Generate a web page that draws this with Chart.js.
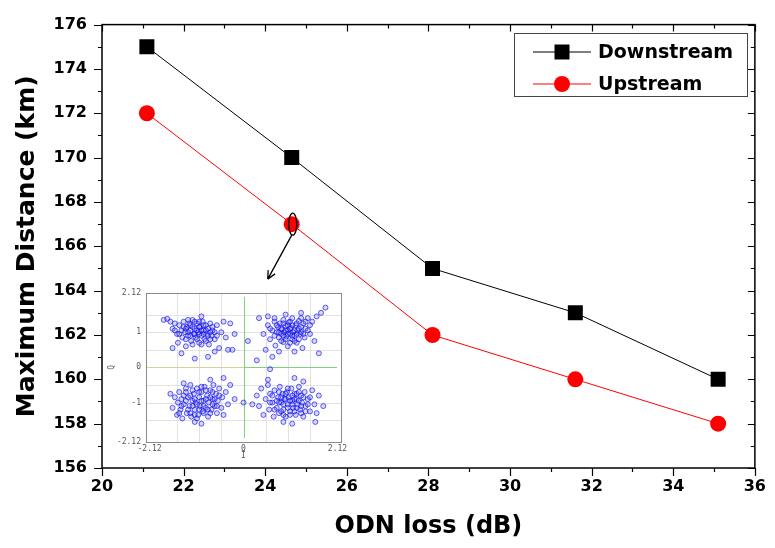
<!DOCTYPE html>
<html>
<head>
<meta charset="utf-8">
<script src="https://cdn.jsdelivr.net/npm/chart.js@4/dist/chart.umd.min.js"></script>
<style>
  body { margin: 0; background: #fff; }
  #wrap { position: relative; width: 775px; height: 548px; }
  #inset { position: absolute; left: 104px; top: 283px; width: 246px; height: 178px; background: #fff; }
</style>
</head>
<body>
<div id="wrap">
  <canvas id="myChart"></canvas>
  <div id="inset"><canvas id="insetChart"></canvas></div>
</div>
<script>
// main chart data
var odnLoss = [21.1, 24.65, 28.1, 31.6, 35.1];
var downstream = [175, 170, 165, 163, 160];
var upstream = [172, 167, 162, 160, 158];
var xTicks = [20, 22, 24, 26, 28, 30, 32, 34, 36];
var yTicks = [156, 158, 160, 162, 164, 166, 168, 170, 172, 174, 176];

// inset constellation (I, Q), roughly
var clusterUL = [[-1.8,1.35],[-1.72,1.38],[-1.65,1.3],[-1.6,1.1],[-1.55,1.25],[-1.5,0.95],[-1.48,0.7],[-1.45,1.2],[-1.4,1.05],[-1.38,0.85],[-1.35,1.3],[-1.32,1.0],[-1.3,0.6],[-1.28,1.15],[-1.25,0.9],[-1.22,1.25],[-1.2,1.05],[-1.18,0.75],[-1.15,1.35],[-1.12,0.95],[-1.1,1.1],[-1.08,0.85],[-1.05,1.25],[-1.02,1.0],[-1.0,0.7],[-0.98,1.15],[-0.95,0.9],[-0.92,1.3],[-0.9,1.05],[-0.88,0.8],[-0.85,1.2],[-0.82,0.95],[-0.8,1.1],[-0.78,0.65],[-0.75,1.25],[-0.72,0.9],[-0.7,1.05],[-0.65,0.8],[-0.6,1.2],[-0.55,0.55],[-0.5,1.0],[-0.45,1.3],[-0.4,0.85],[-0.35,0.5],[-0.3,1.25],[-1.4,0.4],[-1.1,0.25],[-0.8,0.3],[-0.2,0.95],[-1.6,0.55],[-0.95,1.45],[-0.65,0.45],[-0.25,0.5],
  [-1.3,1.1],[-1.25,1.0],[-1.2,0.9],[-1.15,1.15],[-1.1,0.95],[-1.05,1.05],[-1.0,1.15],[-0.95,1.05],[-0.9,0.95],[-0.85,1.05],[-0.8,0.9],[-0.75,1.0],[-1.35,1.15],[-1.25,1.35],[-1.05,0.8],[-0.9,1.2],[-1.2,1.2],[-1.0,0.95],[-0.7,1.15],[-0.65,1.0],[-1.45,0.95],[-1.1,1.3],[-0.85,0.75],[-1.3,0.8],[-0.95,0.65],[-0.6,0.9],[-1.55,1.05],[-1.15,0.65],[-0.75,0.8],[-1.0,1.3]];
var clusterUR = [[0.45,0.95],[0.55,1.2],[0.6,0.8],[0.65,1.05],[0.7,1.3],[0.72,0.62],[0.75,1.0],[0.78,1.15],[0.8,0.85],[0.82,1.25],[0.85,0.95],[0.87,1.08],[0.9,0.72],[0.9,1.35],[0.92,1.0],[0.95,1.18],[0.97,0.88],[1.0,1.05],[1.0,0.6],[1.02,1.28],[1.05,0.95],[1.07,1.12],[1.1,0.8],[1.1,1.4],[1.12,1.0],[1.15,0.9],[1.18,1.2],[1.2,0.7],[1.22,1.05],[1.25,1.32],[1.28,0.95],[1.3,1.15],[1.33,0.55],[1.35,1.25],[1.38,0.85],[1.4,1.1],[1.45,1.4],[1.5,0.95],[1.55,1.3],[1.6,0.75],[1.65,1.45],[1.75,1.55],[1.85,1.7],[0.35,1.4],[0.5,0.5],[0.3,0.2],[0.65,0.3],[1.15,0.45],[0.55,1.45],[1.3,1.55],[0.1,0.75],[1.7,0.4],[0.95,1.5],[0.8,0.45],
  [0.8,1.0],[0.85,1.1],[0.9,0.9],[0.95,1.05],[1.0,0.95],[1.05,1.1],[1.1,1.2],[1.15,1.05],[1.2,0.95],[1.25,1.1],[1.3,1.0],[0.75,1.2],[0.95,0.8],[1.05,1.3],[1.2,1.25],[1.35,0.95],[0.7,0.9],[1.0,1.2],[0.85,0.75],[1.15,0.75],[1.4,1.3],[0.6,1.1],[1.25,0.8],[1.45,1.05],[0.9,1.25],[1.1,0.9],[0.7,1.4],[1.5,1.2],[1.05,0.7],[1.3,1.4]];
var clusterLL = [[-1.6,-1.15],[-1.55,-0.85],[-1.5,-1.35],[-1.48,-1.0],[-1.45,-0.7],[-1.42,-1.2],[-1.4,-0.9],[-1.38,-1.45],[-1.35,-1.05],[-1.3,-0.6],[-1.28,-1.3],[-1.25,-0.85],[-1.22,-1.1],[-1.2,-0.5],[-1.18,-1.4],[-1.15,-0.95],[-1.12,-0.75],[-1.1,-1.2],[-1.08,-1.0],[-1.05,-0.6],[-1.02,-1.35],[-1.0,-0.85],[-0.98,-1.1],[-0.95,-0.7],[-0.92,-1.25],[-0.9,-0.95],[-0.88,-0.55],[-0.85,-1.15],[-0.82,-0.8],[-0.8,-1.4],[-0.78,-1.0],[-0.75,-0.65],[-0.72,-1.2],[-0.7,-0.9],[-0.68,-0.5],[-0.65,-1.1],[-0.62,-0.75],[-0.6,-1.3],[-0.58,-0.95],[-0.55,-0.6],[-0.5,-1.15],[-0.48,-0.85],[-0.45,-1.35],[-0.4,-0.7],[-1.35,-0.45],[-1.65,-0.75],[-0.35,-1.05],[-0.3,-0.5],[-0.2,-0.9],[-1.1,-1.55],[-0.95,-1.6],[-0.75,-0.35],[-0.45,-0.3],
  [-1.3,-0.95],[-1.25,-1.2],[-1.2,-0.8],[-1.15,-1.1],[-1.1,-0.9],[-1.05,-1.05],[-1.0,-1.2],[-0.95,-0.95],[-0.9,-1.1],[-0.85,-0.9],[-0.8,-1.2],[-0.75,-0.85],[-0.7,-1.05],[-1.35,-0.8],[-1.2,-1.3],[-1.0,-0.7],[-0.85,-0.65],[-0.65,-0.9],[-1.4,-1.1],[-1.1,-1.35],[-0.9,-1.3],[-0.6,-1.1],[-1.3,-0.7],[-0.95,-0.55],[-0.75,-1.3],[-1.45,-1.3],[-0.55,-0.8],[-1.15,-0.65],[-1.05,-1.45],[-0.7,-0.7]];
var clusterLR = [[0.3,-0.8],[0.35,-1.1],[0.4,-0.6],[0.45,-1.35],[0.5,-0.9],[0.55,-0.5],[0.58,-1.2],[0.6,-0.75],[0.65,-1.0],[0.68,-1.4],[0.7,-0.65],[0.75,-1.15],[0.78,-0.85],[0.8,-1.3],[0.82,-0.55],[0.85,-1.0],[0.88,-0.75],[0.9,-1.2],[0.92,-0.9],[0.95,-1.4],[0.98,-0.7],[1.0,-1.05],[1.02,-0.85],[1.05,-1.25],[1.08,-0.6],[1.1,-0.95],[1.12,-1.15],[1.15,-0.75],[1.18,-1.35],[1.2,-0.9],[1.22,-1.05],[1.25,-0.55],[1.28,-1.2],[1.3,-0.8],[1.32,-1.0],[1.35,-1.4],[1.38,-0.7],[1.4,-1.1],[1.45,-0.9],[1.5,-1.25],[1.55,-0.65],[1.6,-1.05],[1.65,-1.3],[1.7,-0.8],[1.8,-1.1],[1.62,-1.55],[1.1,-1.6],[0.55,-0.35],[0.6,-0.05],[1.15,-0.3],[0.2,-1.05],[1.35,-0.4],[0.9,-1.55],[0.0,-1.0],
  [0.8,-1.0],[0.85,-0.85],[0.9,-1.05],[0.95,-0.9],[1.0,-1.15],[1.05,-0.95],[1.1,-1.05],[1.15,-0.9],[1.2,-1.15],[1.25,-0.95],[1.3,-1.1],[0.75,-0.95],[0.95,-0.75],[1.05,-1.35],[1.2,-0.75],[1.35,-0.85],[0.7,-1.2],[1.0,-0.6],[0.85,-1.25],[1.15,-1.25],[1.4,-1.25],[0.65,-0.8],[1.25,-0.7],[1.45,-1.05],[0.9,-1.35],[1.1,-0.8],[0.6,-1.0],[1.5,-0.85],[1.3,-1.3],[0.8,-0.7]];
var insetXTicks = [-2.12, 0, 2.12];
var insetYTicks = [-2.12, -1, 0, 1, 2.12];

var FONT = "DejaVu Sans";

// frame + ticks: outward on bottom/left, inward on top/right
var frameTicks = {
  id: "frameTicks",
  afterDraw: function (chart) {
    var ctx = chart.ctx, a = chart.chartArea, x = chart.scales.x, y = chart.scales.y;
    ctx.save();
    ctx.strokeStyle = "#000";
    ctx.lineWidth = 1.5;
    ctx.strokeRect(a.left, a.top, a.right - a.left, a.bottom - a.top);
    ctx.lineWidth = 1.2;
    ctx.beginPath();
    for (var v = x.min; v <= x.max; v++) {
      var px = Math.round(x.getPixelForValue(v)) + 0.5;
      var major = v % 2 === 0;
      ctx.moveTo(px, a.bottom); ctx.lineTo(px, a.bottom + (major ? 8 : 4));
      ctx.moveTo(px, a.top); ctx.lineTo(px, a.top + (major ? 7 : 4));
    }
    for (var w = y.min; w <= y.max; w++) {
      var py = Math.round(y.getPixelForValue(w)) + 0.5;
      var maj = w % 2 === 0;
      ctx.moveTo(a.left, py); ctx.lineTo(a.left - (maj ? 8 : 4), py);
      ctx.moveTo(a.right, py); ctx.lineTo(a.right - (maj ? 7 : 4), py);
    }
    ctx.stroke();
    ctx.restore();
  }
};

// legend box in the top right corner
var boxLegend = {
  id: "boxLegend",
  afterDraw: function (chart) {
    var ctx = chart.ctx;
    ctx.save();
    ctx.strokeStyle = "#444";
    ctx.lineWidth = 1;
    ctx.strokeRect(514.5, 33.5, 233, 63);
    var rows = [
      { label: "Downstream", color: "#000", y: 52, square: true },
      { label: "Upstream", color: "#ff0000", y: 84, square: false }
    ];
    rows.forEach(function (r) {
      ctx.strokeStyle = r.color;
      ctx.fillStyle = r.color;
      ctx.beginPath();
      ctx.moveTo(533, r.y); ctx.lineTo(591, r.y);
      ctx.stroke();
      ctx.beginPath();
      if (r.square) ctx.rect(554.5, r.y - 7.5, 15, 15);
      else ctx.arc(562, r.y, 8, 0, Math.PI * 2);
      ctx.fill();
      ctx.fillStyle = "#000";
      ctx.font = "bold 19px '" + FONT + "'";
      ctx.textBaseline = "middle";
      ctx.fillText(r.label, 598, r.y + 1);
    });
    ctx.restore();
  }
};

// ellipse round the second upstream point and arrow to the inset
var pointer = {
  id: "pointer",
  afterDatasetsDraw: function (chart) {
    var ctx = chart.ctx;
    var px = chart.scales.x.getPixelForValue(odnLoss[1]);
    var py = chart.scales.y.getPixelForValue(upstream[1]);
    ctx.save();
    ctx.strokeStyle = "#000";
    ctx.lineWidth = 1.3;
    ctx.beginPath();
    ctx.ellipse(px + 1, py, 4, 11, 0, 0, Math.PI * 2);
    ctx.stroke();
    var sx = px, sy = py + 11, ex = px - 24, ey = py + 55;
    ctx.beginPath();
    ctx.moveTo(sx, sy); ctx.lineTo(ex, ey);
    var ang = Math.atan2(ey - sy, ex - sx);
    ctx.moveTo(ex, ey); ctx.lineTo(ex - 9 * Math.cos(ang - 0.45), ey - 9 * Math.sin(ang - 0.45));
    ctx.moveTo(ex, ey); ctx.lineTo(ex - 9 * Math.cos(ang + 0.45), ey - 9 * Math.sin(ang + 0.45));
    ctx.stroke();
    ctx.restore();
  }
};

function toPoints(xs, ys) {
  return xs.map(function (v, i) { return { x: v, y: ys[i] }; });
}

var ctx = document.getElementById("myChart").getContext("2d");
var myChart = new Chart(ctx, {
  type: "line",
  data: {
    datasets: [
      {
        label: "Downstream",
        data: toPoints(odnLoss, downstream),
        borderColor: "#000",
        backgroundColor: "#000",
        borderWidth: 1,
        pointStyle: "rect",
        pointRadius: 10.6,
        pointBorderWidth: 0
      },
      {
        label: "Upstream",
        data: toPoints(odnLoss, upstream),
        borderColor: "#ff0000",
        backgroundColor: "#ff0000",
        borderWidth: 1,
        pointStyle: "circle",
        pointRadius: 8,
        pointBorderWidth: 0
      }
    ]
  },
  options: {
    responsive: true,
    maintainAspectRatio: false,
    animation: false,
    layout: { padding: { top: 19, right: 13, left: 0, bottom: 0 } },
    plugins: { legend: { display: false }, tooltip: { enabled: false } },
    scales: {
      x: {
        type: "linear",
        min: 20,
        max: 36,
        afterFit: function (s) { s.height = 80; },
        afterBuildTicks: function (s) { s.ticks = xTicks.map(function (v) { return { value: v }; }); },
        grid: { display: false, drawTicks: false },
        border: { display: false },
        ticks: { autoSkip: false, maxRotation: 0, padding: 9, color: "#000", font: { family: FONT, weight: "bold", size: 16 } },
        title: { display: true, text: "ODN loss (dB)", color: "#000", font: { family: FONT, weight: "bold", size: 24 }, padding: { top: 0, bottom: 7 } }
      },
      y: {
        min: 156,
        max: 176,
        afterFit: function (s) { s.width = 102; },
        afterBuildTicks: function (s) { s.ticks = yTicks.map(function (v) { return { value: v }; }); },
        grid: { display: false, drawTicks: false },
        border: { display: false },
        ticks: { autoSkip: false, padding: 15, color: "#000", font: { family: FONT, weight: "bold", size: 16 } },
        title: { display: true, text: "Maximum Distance (km)", color: "#000", font: { family: FONT, weight: "bold", size: 25 }, padding: { top: 12, bottom: 0 } }
      }
    }
  },
  plugins: [frameTicks, boxLegend, pointer]
});

// inset grid, zero lines and frame
var insetDecor = {
  id: "insetDecor",
  beforeDatasetsDraw: function (chart) {
    var c = chart.ctx, a = chart.chartArea, x = chart.scales.x, y = chart.scales.y;
    c.save();
    c.lineWidth = 1;
    c.strokeStyle = "#e2e2e2";
    c.beginPath();
    [-1.5, -1, -0.5, 0.5, 1, 1.5].forEach(function (v) {
      var px = Math.round(x.getPixelForValue(v)) + 0.5;
      var py = Math.round(y.getPixelForValue(v)) + 0.5;
      c.moveTo(px, a.top); c.lineTo(px, a.bottom);
      c.moveTo(a.left, py); c.lineTo(a.right, py);
    });
    c.stroke();
    var x0 = Math.round(x.getPixelForValue(0)) + 0.5;
    var y0 = Math.round(y.getPixelForValue(0)) + 0.5;
    c.strokeStyle = "#d6d29a";
    c.beginPath(); c.moveTo(a.left, y0); c.lineTo(x0, y0); c.stroke();
    c.strokeStyle = "#7fd37f";
    c.beginPath(); c.moveTo(x0, y0); c.lineTo(a.right - 4, y0); c.stroke();
    c.beginPath(); c.moveTo(x0, a.top + 4); c.lineTo(x0, a.bottom - 4); c.stroke();
    c.restore();
  },
  afterDraw: function (chart) {
    var c = chart.ctx, a = chart.chartArea;
    c.save();
    c.strokeStyle = "#8a8a8a";
    c.lineWidth = 1;
    c.strokeRect(Math.round(a.left) + 0.5, Math.round(a.top) + 0.5, Math.round(a.right - a.left), Math.round(a.bottom - a.top));
    c.restore();
  }
};

function pairsToPoints(list) {
  return list.map(function (p) { return { x: p[0], y: p[1] }; });
}

function plainLabel(v) { return String(v); }

var monoTick = { family: "DejaVu Sans Mono", size: 8 };
new Chart(document.getElementById("insetChart").getContext("2d"), {
  type: "scatter",
  data: {
    datasets: [
      {
        label: "constellation",
        data: pairsToPoints(clusterUL.concat(clusterUR, clusterLL, clusterLR)),
        pointRadius: 2.5,
        borderWidth: 0.8,
        borderColor: "rgba(0,0,230,0.75)",
        backgroundColor: "rgba(90,90,255,0.25)"
      }
    ]
  },
  options: {
    responsive: true,
    maintainAspectRatio: false,
    animation: false,
    layout: { padding: { top: 9, right: 9 } },
    plugins: { legend: { display: false }, tooltip: { enabled: false } },
    scales: {
      x: {
        type: "linear",
        min: -2.2,
        max: 2.2,
        afterFit: function (s) { s.height = 19; },
        afterBuildTicks: function (s) { s.ticks = insetXTicks.map(function (v) { return { value: v }; }); },
        grid: { display: false, drawTicks: false },
        border: { display: false },
        ticks: { autoSkip: false, maxRotation: 0, padding: 2, color: "#555", font: monoTick, callback: plainLabel },
        title: { display: true, text: "I", color: "#555", font: monoTick, padding: 0 }
      },
      y: {
        min: -2.12,
        max: 2.12,
        afterFit: function (s) { s.width = 42; },
        afterBuildTicks: function (s) { s.ticks = insetYTicks.map(function (v) { return { value: v }; }); },
        grid: { display: false, drawTicks: false },
        border: { display: false },
        ticks: { autoSkip: false, padding: 5, color: "#555", font: monoTick, callback: plainLabel },
        title: { display: true, text: "Q", color: "#555", font: monoTick, padding: { top: 3, bottom: 0 } }
      }
    }
  },
  plugins: [insetDecor]
});
</script>
</body>
</html>
